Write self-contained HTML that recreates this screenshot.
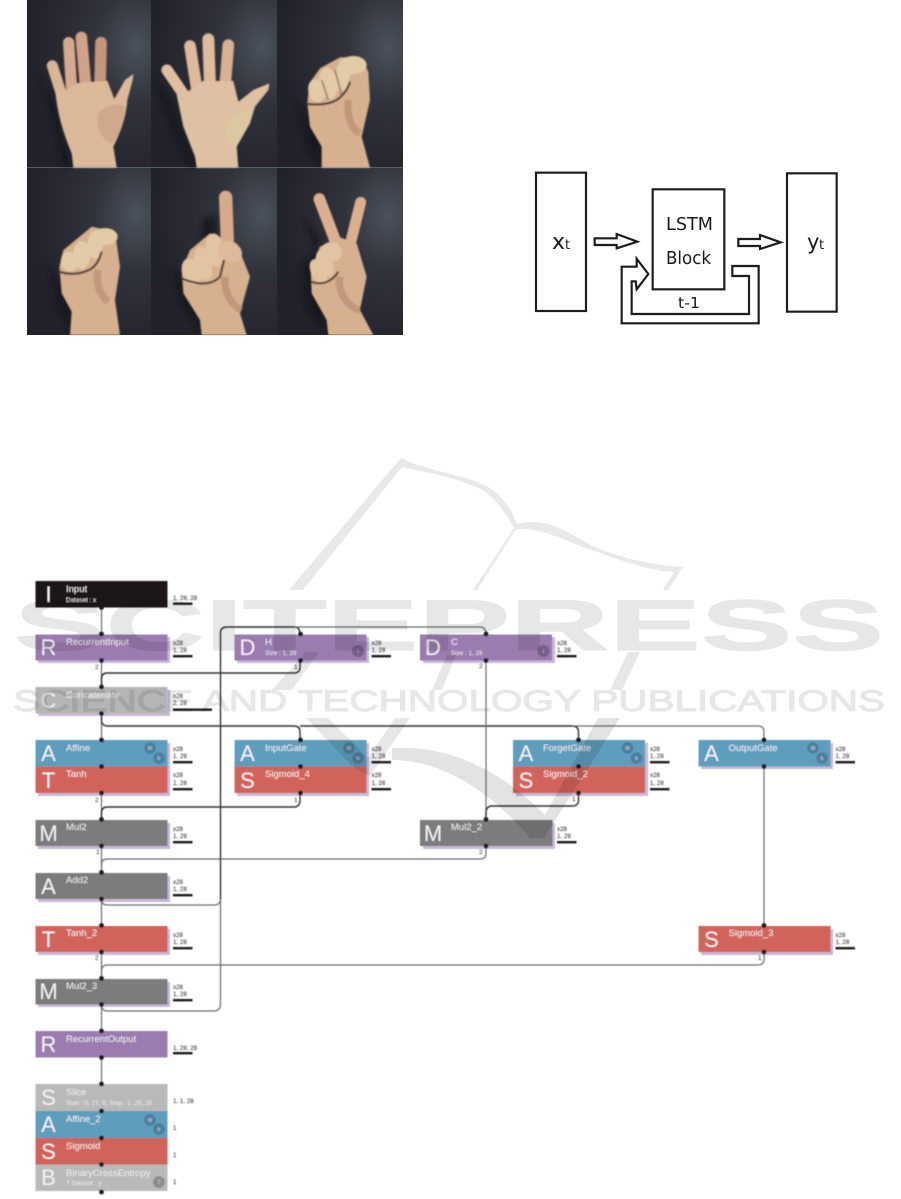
<!DOCTYPE html>
<html><head><meta charset="utf-8"><style>
html,body{margin:0;padding:0;background:#fff}
svg{display:block}
text{font-family:"Liberation Sans",sans-serif}
.L{font-size:22px;fill:#f4f1f4;text-anchor:middle}
.n{font-size:9.5px;fill:#f2eef2}
.s{font-size:6.3px;fill:#eee}
.d{font-size:6.2px;fill:#222}
.b{fill:#1a1a1a}
.h{fill:#c9b6d8}
.p{font-size:6.5px;fill:#333}
.c{fill:none;stroke:#6b6b6b;stroke-width:1.2}
.k{fill:none;stroke:#333;stroke-width:1.4}
.i{font-size:5px;fill:#ddd;text-anchor:middle}
.lt{font-family:"DejaVu Sans",sans-serif;fill:#1a1a1a}
</style></head><body>
<svg width="901" height="1199" viewBox="0 0 901 1199" xmlns="http://www.w3.org/2000/svg">
<defs>
<radialGradient id="bg" cx="0.88" cy="0.28" r="0.85"><stop offset="0" stop-color="#4a525c"/><stop offset="0.4" stop-color="#31333c"/><stop offset="1" stop-color="#21222a"/></radialGradient>
<filter id="f1" x="-5%" y="-5%" width="110%" height="110%"><feGaussianBlur stdDeviation="2.6"/></filter>
<filter id="f2" x="-10%" y="-10%" width="120%" height="120%"><feGaussianBlur stdDeviation="8"/></filter>
<filter id="f3" x="-2%" y="-2%" width="104%" height="104%"><feGaussianBlur stdDeviation="0.45"/></filter>
</defs>

<!-- photo grid -->
<g>
<rect x="27" y="0" width="124" height="167" fill="url(#bg)"/>
<rect x="151" y="0" width="126" height="167" fill="url(#bg)"/>
<rect x="277" y="0" width="126" height="167" fill="url(#bg)"/>
<rect x="27" y="168" width="124" height="167" fill="url(#bg)"/>
<rect x="151" y="168" width="126" height="167" fill="url(#bg)"/>
<rect x="277" y="168" width="126" height="167" fill="url(#bg)"/>
<rect x="27" y="167" width="376" height="1" fill="#5c5e66"/>
</g>
<g transform="translate(20,0) scale(.33333)">
<!-- shadows -->
<g fill="#15151b" opacity=".8" filter="url(#f2)">
<path d="M60,230 L110,400 L130,500 L150,500 L100,300Z"/>
<path d="M400,240 L460,400 L510,500 L530,500 L450,300Z"/>
<path d="M830,300 L860,440 L900,500 L905,420Z"/>
<path d="M85,800 L110,920 L150,1000 L160,900Z"/>
<path d="M550,650 L590,650 L590,710 L540,720Z"/>
<path d="M450,800 L480,900 L540,1000 L540,900Z"/>
<path d="M850,650 L900,720 L880,760 L840,800 L860,930 L920,1000 L900,800Z"/>
</g>
<g filter="url(#f1)">
<!-- Hand 1 -->
<g stroke-linecap="round" fill="none">
<path d="M97,197 L125,285" stroke-width="33" stroke="#d9b496"/>
<path d="M146,128 L155,270" stroke-width="34" stroke="#d6aa90"/>
<path d="M184,112 L197,260" stroke-width="35" stroke="#d0a288"/>
<path d="M243,128 L240,260" stroke-width="35" stroke="#c4967c"/>
</g>
<path fill="#dcb99a" d="M106,275 L135,272 L175,248 L262,242 L283,297 L315,240 L340,222 L338,240 L322,300 C318,360 295,410 280,440 L290,503 L160,503 L155,460 C130,400 112,340 106,275Z"/>
<path fill="#cfa98a" d="M235,340 C260,310 300,310 315,320 C310,370 295,410 275,430 C245,420 225,380 235,340Z"/>
<!-- Hand 2 -->
<g stroke-linecap="round" fill="none">
<path d="M441,210 L492,285" stroke-width="34" stroke="#e0bea0"/>
<path d="M510,138 L530,265" stroke-width="35" stroke="#dfb99c"/>
<path d="M565,118 L570,260" stroke-width="36" stroke="#dfbb9e"/>
<path d="M625,135 L615,260" stroke-width="35" stroke="#d8b093"/>
</g>
<path fill="#e0c0a2" d="M470,285 L500,277 L548,243 L605,243 L640,243 L655,305 L700,270 L748,250 L745,270 L705,320 L690,370 L650,440 L655,503 L530,503 L525,470 L490,380Z"/>
<path fill="#dcc8a0" d="M620,370 C640,340 680,330 695,335 C690,380 660,420 645,440 C620,420 610,395 620,370Z"/>
<!-- Hand 3 -->
<path fill="#d6b08f" d="M862,310 L868,250 900,205 960,172 1020,170 1045,215 1050,300 1025,410 1050,503 905,503 905,440 870,380Z"/>
<g fill="#e4cba8">
<ellipse cx="890" cy="272" rx="25" ry="35" transform="rotate(-15 890 272)"/>
<ellipse cx="925" cy="250" rx="27" ry="48" transform="rotate(-8 925 250)"/>
<ellipse cx="968" cy="225" rx="22" ry="50" transform="rotate(8 968 225)"/>
<ellipse cx="1000" cy="195" rx="40" ry="27"/>
</g>
<path d="M862,312 C900,316 930,312 950,300 C970,285 985,265 990,245" stroke="#3f3029" stroke-width="6" fill="none"/>
<path d="M905,240 L925,300 M945,210 L965,285" stroke="#8a6a52" stroke-width="4" fill="none"/>
<path d="M985,300 C980,340 990,385 1020,400" stroke="#b89070" stroke-width="22" fill="none" opacity=".7"/>
<!-- Hand 4 -->
<path fill="#d6b08f" d="M118,800 L130,750 215,680 285,695 300,800 285,900 300,1005 150,1005 155,935 125,880Z"/>
<g fill="#e4cba8">
<ellipse cx="148" cy="785" rx="25" ry="30" transform="rotate(-15 148 785)"/>
<ellipse cx="185" cy="765" rx="26" ry="42"/>
<ellipse cx="225" cy="735" rx="22" ry="42"/>
<ellipse cx="255" cy="710" rx="38" ry="26"/>
</g>
<path d="M118,815 C150,826 190,822 215,805 C235,790 240,770 245,755" stroke="#3f3029" stroke-width="6" fill="none"/>
<path d="M235,810 C225,850 240,885 265,905" stroke="#b89070" stroke-width="22" fill="none" opacity=".7"/>
<!-- Hand 5 -->
<path d="M617,592 L622,725" stroke="#d8aa8c" stroke-width="40" stroke-linecap="round"/>
<path fill="#d6b08f" d="M485,810 L510,750 570,700 650,730 690,830 660,940 680,1005 545,1005 540,960 490,880Z"/>
<g fill="#e2c4a2">
<ellipse cx="515" cy="815" rx="28" ry="42" transform="rotate(-20 515 815)"/>
<ellipse cx="550" cy="790" rx="26" ry="52" transform="rotate(-12 550 790)"/>
<ellipse cx="585" cy="750" rx="28" ry="50" transform="rotate(-8 585 750)"/>
</g>
<ellipse cx="630" cy="755" rx="38" ry="30" transform="rotate(30 630 755)" fill="#deb99a"/>
<path d="M485,835 C520,850 570,862 600,830 L612,780" stroke="#3f3029" stroke-width="6" fill="none"/>
<path d="M615,830 C610,880 640,920 665,930" stroke="#b89070" stroke-width="22" fill="none" opacity=".7"/>
<!-- Hand 6 -->
<path d="M898,597 L945,720" stroke="#dcaf90" stroke-width="35" stroke-linecap="round"/>
<path d="M1022,607 L990,735" stroke="#dcaf90" stroke-width="33" stroke-linecap="round"/>
<path fill="#d6b08f" d="M872,810 L900,740 960,712 1010,730 1040,830 1020,930 1060,1005 925,1005 920,960 875,880Z"/>
<g fill="#e2c4a2">
<ellipse cx="895" cy="815" rx="22" ry="40" transform="rotate(-25 895 815)"/>
<ellipse cx="915" cy="790" rx="22" ry="42" transform="rotate(-25 915 790)"/>
<ellipse cx="935" cy="755" rx="32" ry="28" transform="rotate(20 935 755)"/>
</g>
<path d="M872,845 C900,855 935,850 955,815" stroke="#3f3029" stroke-width="6" fill="none"/>
<path d="M960,830 C950,880 990,925 1020,930" stroke="#b89070" stroke-width="22" fill="none" opacity=".7"/>
</g>
</g>

<!-- LSTM diagram -->
<g transform="translate(520,160) scale(.33333)" fill="#fff" stroke="#1c1c1c" stroke-width="6.5">
<rect x="48" y="38" width="150" height="415"/>
<rect x="801" y="40" width="149" height="415"/>
<rect x="398" y="88" width="215" height="300"/>
<path d="M224,235 L290,235 290,222 352,245 290,265 290,255 224,255Z"/>
<path d="M655,237 L720,237 720,225 782,247 720,267 720,258 655,258Z"/>
<path d="M637,318 L716,318 716,490 305,490 305,320 350,320 350,296 385,342 350,388 347,364 335,364 335,462 687,462 687,348 637,348Z"/>
</g>
<g class="lt">
<text x="552" y="249" font-size="22" class="lt">x</text><text x="565" y="249" font-size="13" class="lt">t</text>
<text x="807" y="249" font-size="21" class="lt">y</text><text x="819" y="249" font-size="13" class="lt">t</text>
<text x="666" y="230" font-size="18" class="lt" textLength="47" lengthAdjust="spacingAndGlyphs">LSTM</text>
<text x="666" y="264" font-size="18" class="lt" textLength="45" lengthAdjust="spacingAndGlyphs">Block</text>
<text x="678" y="308" font-size="15" class="lt" textLength="22" lengthAdjust="spacingAndGlyphs">t-1</text>
</g>

<g filter="url(#f3)">
<!-- node shadows -->
<rect class="h" x="38" y="637" width="132" height="26"/>
<rect class="h" x="38" y="690" width="132" height="26"/>
<rect class="h" x="38" y="743" width="132" height="53"/>
<rect class="h" x="38" y="823" width="132" height="26"/>
<rect class="h" x="38" y="876" width="132" height="26"/>
<rect class="h" x="38" y="929" width="132" height="26"/>
<rect class="h" x="38" y="982" width="132" height="25"/>
<rect class="h" x="237" y="637" width="132" height="26"/>
<rect class="h" x="423" y="637" width="132" height="26"/>
<rect class="h" x="237" y="743" width="132" height="53"/>
<rect class="h" x="516" y="743" width="132" height="53"/>
<rect class="h" x="701" y="743" width="132" height="26"/>
<rect class="h" x="423" y="823" width="132" height="26"/>
<rect class="h" x="701" y="929" width="132" height="26"/>

<!-- nodes -->
<rect x="35.500" y="581" width="132" height="26.500" fill="#1b1717"/>
<rect x="35.500" y="634.500" width="132" height="26" fill="#9a7cb0"/>
<rect x="35.500" y="687" width="132" height="26.500" fill="#b6b5b6"/>
<rect x="35.500" y="740" width="132" height="26.500" fill="#5f9dbd"/>
<rect x="35.500" y="766.500" width="132" height="26.500" fill="#d2635a"/>
<rect x="35.500" y="820" width="132" height="26" fill="#7b7b7b"/>
<rect x="35.500" y="873" width="132" height="26" fill="#7b7b7b"/>
<rect x="35.500" y="926" width="132" height="26" fill="#d2635a"/>
<rect x="35.500" y="979" width="132" height="25.500" fill="#7b7b7b"/>
<rect x="35.500" y="1031" width="132" height="26.500" fill="#9a7cb0"/>
<rect x="35.500" y="1084" width="132" height="27" fill="#b9b9b9"/>
<rect x="35.500" y="1111" width="132" height="27" fill="#5f9dbd"/>
<rect x="35.500" y="1138" width="132" height="26.500" fill="#d2635a"/>
<rect x="35.500" y="1164.500" width="132" height="26.500" fill="#b9b9b9"/>
<rect x="234.500" y="634.500" width="132" height="26" fill="#9a7cb0"/>
<rect x="420" y="634.500" width="132" height="26" fill="#9a7cb0"/>
<rect x="234.500" y="740" width="132" height="26.500" fill="#5f9dbd"/>
<rect x="234.500" y="766.500" width="132" height="26.500" fill="#d2635a"/>
<rect x="513" y="740" width="132" height="26.500" fill="#5f9dbd"/>
<rect x="513" y="766.500" width="132" height="26.500" fill="#d2635a"/>
<rect x="698.500" y="740" width="132" height="26.500" fill="#5f9dbd"/>
<rect x="420" y="820" width="132.500" height="26" fill="#7b7b7b"/>
<rect x="698.500" y="926" width="132" height="26" fill="#d2635a"/>

<!-- connectors -->
<path class="c" d="M101.500,607V634M101.500,660V687M101.500,713V740M101.500,793V820M101.500,846V873M101.500,899V926M101.500,952V979M101.500,1004V1031M101.500,1057V1084"/>
<path class="k" d="M300,660V667Q300,673 294,673H107Q101.500,673 101.500,679V687"/>
<path class="k" stroke-width="1.800" d="M101.500,713V720Q101.500,726 108,726H294Q300,726 300,732V740"/>
<path class="k" d="M300,726H572Q578.500,726 578.500,732V740"/>
<path class="c" d="M572,726H758Q764,726 764,732V740"/>
<path class="k" d="M300,793V800Q300,807 294,807H107Q101.500,807 101.500,813V820"/>
<path class="c" d="M486,846V853Q486,859 480,859H107Q101.500,859 101.500,865V873"/>
<path class="c" d="M101.500,899Q101.500,905 107,905H214Q220.500,905 220.500,899"/>
<path class="c" d="M101.500,1004Q101.500,1011 107,1011H214Q220.500,1011 220.500,1004V899"/>
<path class="k" d="M220.500,899V633Q220.500,627 227,627H294Q300,627 300,634"/>
<path class="c" d="M294,627H480Q486,627 486,634"/>
<path class="c" d="M486,660V820"/>
<path class="k" d="M578.500,793V800Q578.500,806 572,806H492Q486,806 486,813V820"/>
<path class="c" stroke-width="1.500" d="M764,766V926"/>
<path class="c" d="M764,952V959Q764,965 758,965H107Q101.500,965 101.500,972V979"/>

<!-- dots -->
<g class="b">
<circle cx="101.500" cy="607.500" r="2.400"/><circle cx="101.500" cy="634" r="2.400"/><circle cx="101.500" cy="660.500" r="2.400"/>
<circle cx="101.500" cy="687" r="2.400"/><circle cx="101.500" cy="713.500" r="2.400"/><circle cx="101.500" cy="740" r="2.400"/>
<circle cx="101.500" cy="766.500" r="2.400"/><circle cx="101.500" cy="793" r="2.400"/><circle cx="101.500" cy="819.500" r="2.400"/>
<circle cx="101.500" cy="846" r="2.400"/><circle cx="101.500" cy="872.500" r="2.400"/><circle cx="101.500" cy="899" r="2.400"/>
<circle cx="101.500" cy="925.500" r="2.400"/><circle cx="101.500" cy="952" r="2.400"/><circle cx="101.500" cy="978.500" r="2.400"/>
<circle cx="101.500" cy="1004.500" r="2.400"/><circle cx="101.500" cy="1031" r="2.400"/><circle cx="101.500" cy="1057.500" r="2.400"/>
<circle cx="101.500" cy="1084" r="2.400"/><circle cx="101.500" cy="1111" r="2.400"/><circle cx="101.500" cy="1138" r="2.400"/>
<circle cx="101.500" cy="1164.500" r="2.400"/><circle cx="101.500" cy="1192" r="2.400"/>
<circle cx="300.500" cy="634" r="2.400"/><circle cx="300.500" cy="660.500" r="2.400"/>
<circle cx="486" cy="634" r="2.400"/><circle cx="486" cy="660.500" r="2.400"/>
<circle cx="300.500" cy="740" r="2.400"/><circle cx="300.500" cy="766.500" r="2.400"/><circle cx="300.500" cy="793" r="2.400"/>
<circle cx="578.500" cy="740" r="2.400"/><circle cx="578.500" cy="766.500" r="2.400"/><circle cx="578.500" cy="793" r="2.400"/>
<circle cx="764" cy="740" r="2.400"/><circle cx="764" cy="766.500" r="2.400"/>
<circle cx="486" cy="819.500" r="2.400"/><circle cx="486" cy="846" r="2.400"/>
<circle cx="764" cy="925.500" r="2.400"/><circle cx="764" cy="952" r="2.400"/>
</g>

<!-- badges -->
<g fill="#3f6c8c" opacity=".6">
<circle cx="150" cy="748" r="5.800"/><circle cx="159" cy="758" r="5.800"/>
<circle cx="349" cy="748" r="5.800"/><circle cx="358" cy="758" r="5.800"/>
<circle cx="627.500" cy="748" r="5.800"/><circle cx="636.500" cy="758" r="5.800"/>
<circle cx="813" cy="748" r="5.800"/><circle cx="822" cy="758" r="5.800"/>
<circle cx="150" cy="1120" r="5.800"/><circle cx="159" cy="1129" r="5.800"/>
</g>
<circle cx="358" cy="651" r="6" fill="#6d5680" opacity=".8"/>
<circle cx="543.500" cy="651" r="6" fill="#6d5680" opacity=".8"/>
<circle cx="159" cy="1182" r="6" fill="#8e8e8e"/>
<text class="i" x="150" y="750">W</text><text class="i" x="159" y="760">b</text>
<text class="i" x="349" y="750">W</text><text class="i" x="358" y="760">b</text>
<text class="i" x="627.500" y="750">W</text><text class="i" x="636.500" y="760">b</text>
<text class="i" x="813" y="750">W</text><text class="i" x="822" y="760">b</text>
<text class="i" x="150" y="1122">W</text><text class="i" x="159" y="1131">b</text>
<text class="i" x="358" y="653">i</text><text class="i" x="543.500" y="653">i</text><text class="i" x="159" y="1184">T</text>

<!-- letters -->
<text class="L" x="48.500" y="602">I</text>
<text class="L" x="48.500" y="655">R</text>
<text class="L" x="48.500" y="708">C</text>
<text class="L" x="48.500" y="761">A</text>
<text class="L" x="48.500" y="788">T</text>
<text class="L" x="48.500" y="841">M</text>
<text class="L" x="48.500" y="894">A</text>
<text class="L" x="48.500" y="947">T</text>
<text class="L" x="48.500" y="999">M</text>
<text class="L" x="48.500" y="1052">R</text>
<text class="L" x="48.500" y="1105">S</text>
<text class="L" x="48.500" y="1132">A</text>
<text class="L" x="48.500" y="1159">S</text>
<text class="L" x="48.500" y="1185">B</text>
<text class="L" x="247.500" y="655">D</text>
<text class="L" x="433" y="655">D</text>
<text class="L" x="247.500" y="761">A</text>
<text class="L" x="247.500" y="788">S</text>
<text class="L" x="526" y="761">A</text>
<text class="L" x="526" y="788">S</text>
<text class="L" x="711.500" y="761">A</text>
<text class="L" x="433" y="841">M</text>
<text class="L" x="711.500" y="947">S</text>

<!-- names -->
<text class="n" x="66" y="592">Input</text><text class="s" x="66" y="602">Dataset : x</text>
<text class="n" x="66" y="645">RecurrentInput</text>
<text class="n" x="66" y="698">Concatenate</text>
<text class="n" x="66" y="751">Affine</text>
<text class="n" x="66" y="777">Tanh</text>
<text class="n" x="66" y="830">Mul2</text>
<text class="n" x="66" y="883">Add2</text>
<text class="n" x="66" y="936">Tanh_2</text>
<text class="n" x="66" y="989">Mul2_3</text>
<text class="n" x="66" y="1042">RecurrentOutput</text>
<text class="n" x="66" y="1095">Slice</text><text class="s" x="66" y="1105" textLength="86">Start : 0, 27, 0, Step : 1, 28, 28</text>
<text class="n" x="66" y="1122">Affine_2</text>
<text class="n" x="66" y="1149">Sigmoid</text>
<text class="n" x="66" y="1176">BinaryCrossEntropy</text><text class="s" x="66" y="1185">T Dataset : y</text>
<text class="n" x="265" y="645">H</text><text class="s" x="265" y="655">Size : 1, 28</text>
<text class="n" x="451" y="645">C</text><text class="s" x="451" y="655">Size : 1, 28</text>
<text class="n" x="265" y="751">InputGate</text>
<text class="n" x="265" y="777">Sigmoid_4</text>
<text class="n" x="543" y="751">ForgetGate</text>
<text class="n" x="543" y="777">Sigmoid_2</text>
<text class="n" x="728.500" y="751">OutputGate</text>
<text class="n" x="451" y="830">Mul2_2</text>
<text class="n" x="728.500" y="936">Sigmoid_3</text>

<!-- shape labels -->
<text class="d" x="173" y="600">1, 28, 28</text><rect class="b" x="173" y="602.500" width="19.500" height="2.400"/>
<text class="d" x="173" y="645">x28</text><text class="d" x="173" y="652">1, 28</text><rect class="b" x="173" y="655" width="19.500" height="2.400"/>
<text class="d" x="173" y="698">x28</text><text class="d" x="173" y="705">2, 28</text><rect class="b" x="173" y="708.500" width="39" height="2.400"/>
<text class="d" x="173" y="751">x28</text><text class="d" x="173" y="758">1, 28</text><rect class="b" x="173" y="761" width="19.500" height="2.400"/>
<text class="d" x="173" y="777">x28</text><text class="d" x="173" y="785">1, 28</text><rect class="b" x="173" y="788" width="19.500" height="2.400"/>
<text class="d" x="173" y="831">x28</text><text class="d" x="173" y="838">1, 28</text><rect class="b" x="173" y="841" width="19.500" height="2.400"/>
<text class="d" x="173" y="884">x28</text><text class="d" x="173" y="891">1, 28</text><rect class="b" x="173" y="894" width="19.500" height="2.400"/>
<text class="d" x="173" y="937">x28</text><text class="d" x="173" y="944">1, 28</text><rect class="b" x="173" y="947" width="19.500" height="2.400"/>
<text class="d" x="173" y="989">x28</text><text class="d" x="173" y="996">1, 28</text><rect class="b" x="173" y="999" width="19.500" height="2.400"/>
<text class="d" x="173" y="1050">1, 28, 28</text><rect class="b" x="173" y="1052" width="19.500" height="2.400"/>
<text class="d" x="173" y="1103">1, 1, 28</text>
<text class="d" x="173" y="1130">1</text><text class="d" x="173" y="1157">1</text><text class="d" x="173" y="1184">1</text>
<text class="d" x="371.500" y="645">x28</text><text class="d" x="371.500" y="652">1, 28</text><rect class="b" x="371.500" y="655" width="19.500" height="2.400"/>
<text class="d" x="557" y="645">x28</text><text class="d" x="557" y="652">1, 28</text><rect class="b" x="557" y="655" width="19.500" height="2.400"/>
<text class="d" x="371.500" y="751">x28</text><text class="d" x="371.500" y="758">1, 28</text><rect class="b" x="371.500" y="761" width="19.500" height="2.400"/>
<text class="d" x="371.500" y="777">x28</text><text class="d" x="371.500" y="785">1, 28</text><rect class="b" x="371.500" y="788" width="19.500" height="2.400"/>
<text class="d" x="650" y="751">x28</text><text class="d" x="650" y="758">1, 28</text><rect class="b" x="650" y="761" width="19.500" height="2.400"/>
<text class="d" x="650" y="777">x28</text><text class="d" x="650" y="785">1, 28</text><rect class="b" x="650" y="788" width="19.500" height="2.400"/>
<text class="d" x="835.500" y="751">x28</text><text class="d" x="835.500" y="758">1, 28</text><rect class="b" x="835.500" y="761" width="19.500" height="2.400"/>
<text class="d" x="557" y="831">x28</text><text class="d" x="557" y="838">1, 28</text><rect class="b" x="557" y="841" width="19.500" height="2.400"/>
<text class="d" x="835.500" y="937">x28</text><text class="d" x="835.500" y="944">1, 28</text><rect class="b" x="835.500" y="947" width="19.500" height="2.400"/>

<!-- port numbers -->
<text class="p" x="95" y="669">2</text><text class="p" x="95" y="802">2</text><text class="p" x="96" y="854">1</text><text class="p" x="95" y="960">2</text>
<text class="p" x="294" y="669">1</text><text class="p" x="294" y="802">1</text>
<text class="p" x="479" y="668">2</text><text class="p" x="479" y="854">2</text>
<text class="p" x="572" y="801">1</text><text class="p" x="758" y="960">1</text>
</g>

<!-- watermark -->
<g style="mix-blend-mode:multiply">
<path fill="#e8e9e8" d="M400,459 L402,458 C420,470 470,475 490,488 C503,497 512,510 517,524 C545,517 565,530 590,545 C620,558 650,565 683,567 L668,590 L663,590 L674,572 C640,570 610,555 585,548 C560,538 540,528 516,529 L477,590 L473,590 L514,528 C505,512 495,498 482,490 C460,478 425,472 402,467 L303,590 L289,590Z"/>
<g fill="#e6e7e6" stroke="#e6e7e6" stroke-width="1" font-size="72" font-weight="700">
<text x="14" y="650" textLength="870" lengthAdjust="spacingAndGlyphs">SCITEPRESS</text>
</g>
<g fill="#e6e7e6" stroke="#e6e7e6" stroke-width="1" font-size="30">
<text x="13" y="711" textLength="872" lengthAdjust="spacingAndGlyphs">SCIENCE AND TECHNOLOGY PUBLICATIONS</text>
</g>
<path fill="#e6e7e6" d="M306,652 L319,652 L292,690 L272,690Z M447,655 L456,655 L442,690 L432,690Z M628,652 L640,652 L622,690 L610,690Z M306,718 L328,718 L368,758 L395,718 L410,718 L370,776 L352,766Z"/>
<path fill="#e2e3e2" d="M392,760 C440,760 490,790 530,838 L544,838 L620,718 L598,718 L545,815 C500,770 450,745 392,748Z"/>
</g>
</svg>
</body></html>
